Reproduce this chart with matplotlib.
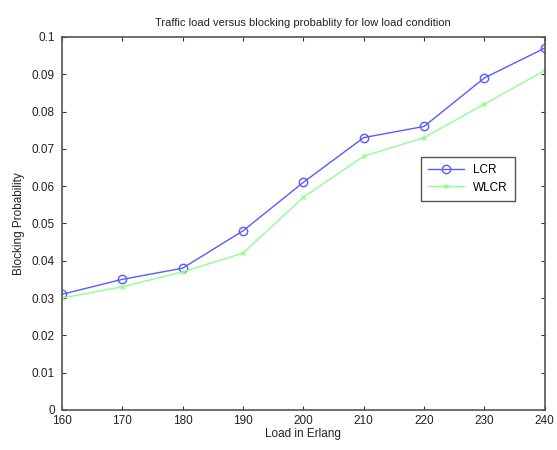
import matplotlib
matplotlib.use("Agg")
import matplotlib.pyplot as plt

plt.rcParams['font.family'] = ['Liberation Sans', 'DejaVu Sans']

# Données
load = [160, 170, 180, 190, 200, 210, 220, 230, 240]
lcr = [0.031, 0.035, 0.038, 0.048, 0.061, 0.073, 0.076, 0.089, 0.097]
wlcr = [0.030, 0.033, 0.037, 0.042, 0.057, 0.068, 0.073, 0.082, 0.091]

fig = plt.figure(figsize=(5.57, 4.5), dpi=100)
ax = fig.add_axes([0.111, 0.089, 0.867, 0.829])

ax.plot(load, lcr, color="#5a5aff", marker="o", markersize=6, markerfacecolor="none",
        markeredgecolor="#5a5aff", linewidth=1.0, label="LCR")
ax.plot(load, wlcr, color="#90ff90", marker="x", markersize=3, linewidth=1.0, label="WLCR")

ax.set_xlim(160, 240)
ax.set_ylim(0, 0.1)
ax.set_xticks(load)
ax.set_yticks([i / 100 for i in range(11)])
ax.set_yticklabels(["0", "0.01", "0.02", "0.03", "0.04", "0.05", "0.06", "0.07", "0.08", "0.09", "0.1"])
ax.tick_params(direction="in", labelsize=8.5, colors="#333333", length=3, top=True, right=True,
               labelcolor="#222222")
ax.tick_params(axis="y", pad=5)
for s in ax.spines.values():
    s.set_color("#555555")
    s.set_linewidth(1.2)

ax.set_xlabel("Load in Erlang", fontsize=8.5, labelpad=1, color="#222222")
ax.set_ylabel("Blocking Probability", fontsize=8.5, labelpad=5, color="#222222")
ax.set_title("Traffic load versus blocking probablity for low load condition", fontsize=8,
             color="#222222", pad=8)

leg = ax.legend(loc="upper right", bbox_to_anchor=(0.95, 0.695), fontsize=8.5, fancybox=False,
                framealpha=1, handlelength=3, borderpad=0.6)
leg.get_frame().set_edgecolor("#555555")
leg.get_frame().set_linewidth(1.0)

fig.savefig("out.png", dpi=100)
